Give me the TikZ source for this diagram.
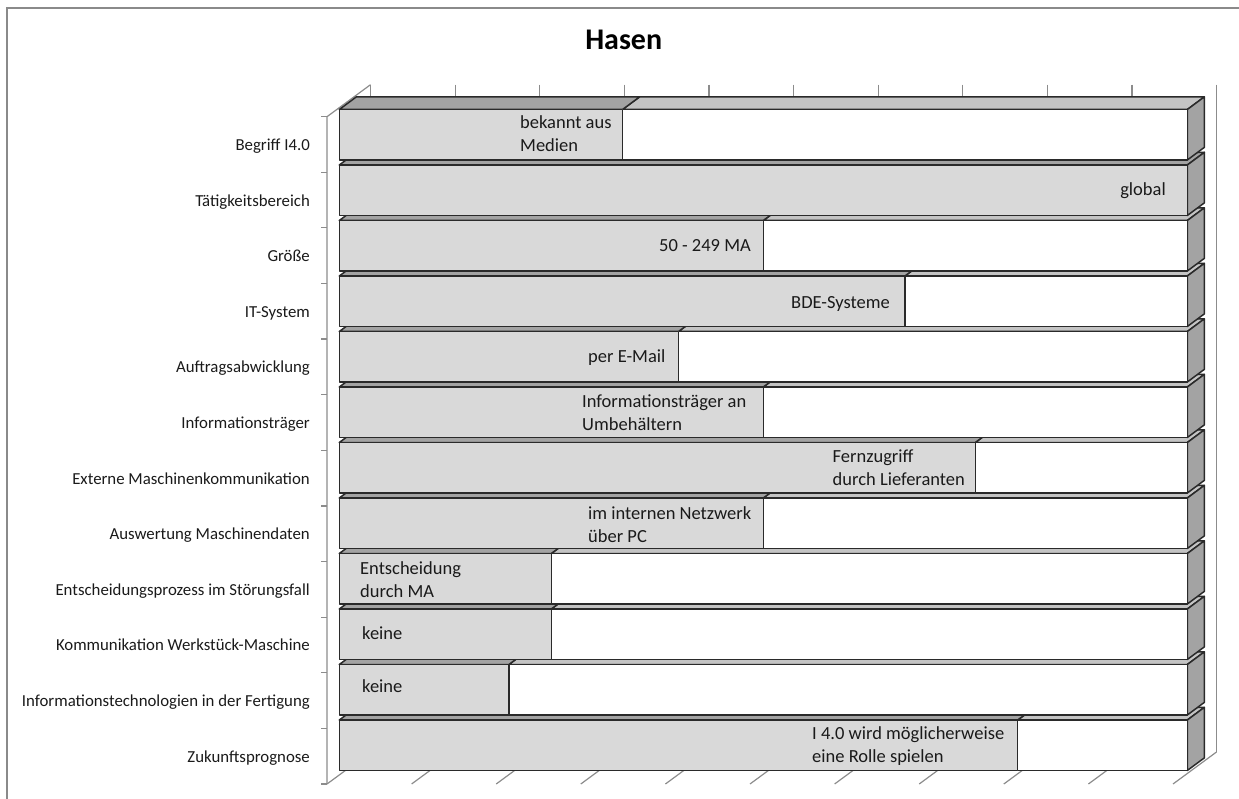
\documentclass[tikz,border=0pt]{standalone}
\usepackage{fontspec}
\setmainfont{Carlito}
\definecolor{frontgray}{HTML}{D9D9D9}
\definecolor{topdark}{HTML}{A3A3A3}
\definecolor{toplight}{HTML}{C4C4C4}
\definecolor{sidegray}{HTML}{A3A3A3}
\definecolor{barline}{HTML}{2A2A2A}
\definecolor{gridgray}{HTML}{8C8C8C}
\definecolor{framegray}{HTML}{8A8A8A}
\definecolor{txt}{HTML}{1A1A1A}
\begin{document}
\begin{tikzpicture}[x=1pt,y=-1pt,
  gridline/.style={draw=gridgray, line width=1.2pt},
  edge/.style={draw=barline, line width=1.5pt, line join=round},
  catlabel/.style={anchor=base east, inner sep=0pt, font=\fontsize{16.8}{20}\selectfont, text=txt},
  barlabel/.style={anchor=base west, inner sep=0pt, align=left, font=\fontsize{18.5}{22.8}\selectfont, text=txt},
  barlabelr/.style={anchor=base east, inner sep=0pt, font=\fontsize{18.5}{22.8}\selectfont, text=txt},
]
\useasboundingbox (0,0) rectangle (1239,799);
\begin{scope}
\clip (0,0) rectangle (1239,799);
% chart area frame
\draw[framegray, line width=1.5pt] (7,8) rectangle (1260,830);

% title
\node[anchor=base, inner sep=0pt, font=\bfseries\fontsize{30}{36}\selectfont] (title) at (623.7,49.3) {Hasen};

% back wall gridlines and floor gridlines
\foreach \k in {0,...,10}{
  \draw[gridline] ({370.5+84.6*\k},84.7) -- ({370.5+84.6*\k},752);
  \draw[gridline] ({327+84.6*\k},784) -- ({370.5+84.6*\k},752);
}
% category axis
\draw[gridline] (327,784) -- (327,116.7) -- (370.5,84.7);
\foreach \k in {0,...,12}
  \draw[gridline] (321,{116.7+55.6*\k}) -- (327,{116.7+55.6*\k});

% bars, drawn from the bottom row upwards
\foreach \i/\v in {11/8, 10/2, 9/2.5, 8/2.5, 7/5, 6/7.5, 5/5, 4/4, 3/6.67, 2/5, 1/10, 0/3.34}{
  \pgfmathsetmacro{\t}{109.5+55.5*\i}
  \pgfmathsetmacro{\b}{\t+50.5}
  \pgfmathsetmacro{\e}{339.3+84.8*\v}
  \pgfmathsetmacro{\tt}{\t-12.6}
  \pgfmathsetmacro{\bb}{\b-12.6}
  \pgfmathsetmacro{\ee}{\e+17}
  % top faces
  \filldraw[edge, fill=toplight] (\e,\t) -- (1187.3,\t) -- (1204.3,\tt) -- (\ee,\tt) -- cycle;
  \filldraw[edge, fill=topdark] (339.3,\t) -- (\e,\t) -- (\ee,\tt) -- (356.3,\tt) -- cycle;
  % side face
  \filldraw[edge, fill=sidegray] (1187.3,\t) -- (1204.3,\tt) -- (1204.3,\bb) -- (1187.3,\b) -- cycle;
  % front faces
  \filldraw[edge, fill=white] (\e,\t) rectangle (1187.3,\b);
  \filldraw[edge, fill=frontgray] (339.3,\t) rectangle (\e,\b);
}

% category labels
\foreach \i/\name in {0/Begriff I4.0, 1/Tätigkeitsbereich, 2/Größe, 3/IT-System,
  4/Auftragsabwicklung\ , 5/Informationsträger, 6/Externe Maschinenkommunikation,
  7/Auswertung Maschinendaten, 8/Entscheidungsprozess im Störungsfall,
  9/Kommunikation Werkstück-Maschine, 10/Informationstechnologien in der Fertigung,
  11/Zukunftsprognose}
  \node[catlabel] (cat\i) at (310,{116.7+55.6*(\i+0.5)+6}) {\name};

% value labels (multi-line ones are placed by the baseline of their last line)
\node[barlabel] (lab0) at (520,151.5) {bekannt aus\\Medien};
\node[barlabelr] (lab1) at (1166,196) {global};
\node[barlabelr] (lab2) at (751,251.7) {50 - 249 MA};
\node[barlabelr] (lab3) at (890,308.3) {BDE-Systeme};
\node[barlabel] (lab4) at (588,362.3) {per E-Mail};
\node[barlabel] (lab5) at (582,430) {Informationsträger an\\Umbehältern};
\node[barlabel] (lab6) at (832.5,485) {Fernzugriff\\durch Lieferanten};
\node[barlabel] (lab7) at (588,542) {im internen Netzwerk\\über PC};
\node[barlabel] (lab8) at (360,597.7) {Entscheidung\\durch MA};
\node[barlabel] (lab9) at (362,639.3) {keine};
\node[barlabel] (lab10) at (362,692.7) {keine};
\node[barlabel] (lab11) at (812,762.5) {I 4.0 wird möglicherweise\\eine Rolle spielen};
\end{scope}
\end{tikzpicture}
\end{document}
